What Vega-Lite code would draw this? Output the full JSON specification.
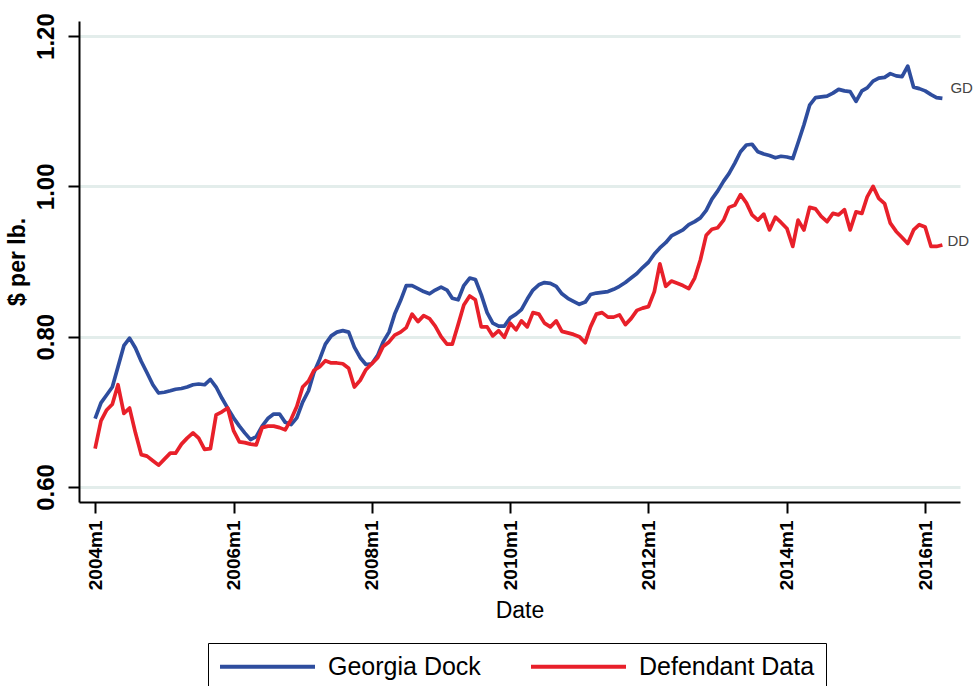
{
 "$schema": "https://vega.github.io/schema/vega-lite/v6.json",
 "width": 881,
 "height": 481,
 "autosize": {"type": "none"},
 "padding": {"left": 79, "top": 21, "right": 19, "bottom": 184},
 "background": "white",
 "config": {"view": {"stroke": null}, "font": "Liberation Sans"},
 "datasets": {
  "prices": [
   {"date":"2004-01-01","Georgia Dock":0.691,"Defendant Data":0.651},
   {"date":"2004-02-01","Georgia Dock":0.712,"Defendant Data":0.688},
   {"date":"2004-03-01","Georgia Dock":0.722,"Defendant Data":0.702},
   {"date":"2004-04-01","Georgia Dock":0.733,"Defendant Data":0.710},
   {"date":"2004-05-01","Georgia Dock":0.760,"Defendant Data":0.736},
   {"date":"2004-06-01","Georgia Dock":0.788,"Defendant Data":0.698},
   {"date":"2004-07-01","Georgia Dock":0.798,"Defendant Data":0.705},
   {"date":"2004-08-01","Georgia Dock":0.785,"Defendant Data":0.672},
   {"date":"2004-09-01","Georgia Dock":0.767,"Defendant Data":0.643},
   {"date":"2004-10-01","Georgia Dock":0.752,"Defendant Data":0.641},
   {"date":"2004-11-01","Georgia Dock":0.736,"Defendant Data":0.635},
   {"date":"2004-12-01","Georgia Dock":0.725,"Defendant Data":0.629},
   {"date":"2005-01-01","Georgia Dock":0.726,"Defendant Data":0.637},
   {"date":"2005-02-01","Georgia Dock":0.728,"Defendant Data":0.645},
   {"date":"2005-03-01","Georgia Dock":0.730,"Defendant Data":0.645},
   {"date":"2005-04-01","Georgia Dock":0.731,"Defendant Data":0.657},
   {"date":"2005-05-01","Georgia Dock":0.733,"Defendant Data":0.665},
   {"date":"2005-06-01","Georgia Dock":0.736,"Defendant Data":0.672},
   {"date":"2005-07-01","Georgia Dock":0.737,"Defendant Data":0.665},
   {"date":"2005-08-01","Georgia Dock":0.736,"Defendant Data":0.650},
   {"date":"2005-09-01","Georgia Dock":0.743,"Defendant Data":0.651},
   {"date":"2005-10-01","Georgia Dock":0.733,"Defendant Data":0.696},
   {"date":"2005-11-01","Georgia Dock":0.718,"Defendant Data":0.700},
   {"date":"2005-12-01","Georgia Dock":0.705,"Defendant Data":0.705},
   {"date":"2006-01-01","Georgia Dock":0.692,"Defendant Data":0.675},
   {"date":"2006-02-01","Georgia Dock":0.681,"Defendant Data":0.660},
   {"date":"2006-03-01","Georgia Dock":0.672,"Defendant Data":0.659},
   {"date":"2006-04-01","Georgia Dock":0.663,"Defendant Data":0.657},
   {"date":"2006-05-01","Georgia Dock":0.667,"Defendant Data":0.656},
   {"date":"2006-06-01","Georgia Dock":0.681,"Defendant Data":0.679},
   {"date":"2006-07-01","Georgia Dock":0.691,"Defendant Data":0.681},
   {"date":"2006-08-01","Georgia Dock":0.697,"Defendant Data":0.681},
   {"date":"2006-09-01","Georgia Dock":0.697,"Defendant Data":0.679},
   {"date":"2006-10-01","Georgia Dock":0.686,"Defendant Data":0.676},
   {"date":"2006-11-01","Georgia Dock":0.683,"Defendant Data":0.690},
   {"date":"2006-12-01","Georgia Dock":0.692,"Defendant Data":0.707},
   {"date":"2007-01-01","Georgia Dock":0.713,"Defendant Data":0.733},
   {"date":"2007-02-01","Georgia Dock":0.728,"Defendant Data":0.741},
   {"date":"2007-03-01","Georgia Dock":0.752,"Defendant Data":0.755},
   {"date":"2007-04-01","Georgia Dock":0.770,"Defendant Data":0.760},
   {"date":"2007-05-01","Georgia Dock":0.790,"Defendant Data":0.768},
   {"date":"2007-06-01","Georgia Dock":0.801,"Defendant Data":0.765},
   {"date":"2007-07-01","Georgia Dock":0.806,"Defendant Data":0.765},
   {"date":"2007-08-01","Georgia Dock":0.808,"Defendant Data":0.764},
   {"date":"2007-09-01","Georgia Dock":0.806,"Defendant Data":0.758},
   {"date":"2007-10-01","Georgia Dock":0.786,"Defendant Data":0.733},
   {"date":"2007-11-01","Georgia Dock":0.772,"Defendant Data":0.742},
   {"date":"2007-12-01","Georgia Dock":0.763,"Defendant Data":0.756},
   {"date":"2008-01-01","Georgia Dock":0.764,"Defendant Data":0.764},
   {"date":"2008-02-01","Georgia Dock":0.775,"Defendant Data":0.772},
   {"date":"2008-03-01","Georgia Dock":0.793,"Defendant Data":0.787},
   {"date":"2008-04-01","Georgia Dock":0.806,"Defendant Data":0.793},
   {"date":"2008-05-01","Georgia Dock":0.830,"Defendant Data":0.802},
   {"date":"2008-06-01","Georgia Dock":0.848,"Defendant Data":0.806},
   {"date":"2008-07-01","Georgia Dock":0.868,"Defendant Data":0.812},
   {"date":"2008-08-01","Georgia Dock":0.868,"Defendant Data":0.830},
   {"date":"2008-09-01","Georgia Dock":0.864,"Defendant Data":0.820},
   {"date":"2008-10-01","Georgia Dock":0.860,"Defendant Data":0.828},
   {"date":"2008-11-01","Georgia Dock":0.857,"Defendant Data":0.824},
   {"date":"2008-12-01","Georgia Dock":0.862,"Defendant Data":0.814},
   {"date":"2009-01-01","Georgia Dock":0.866,"Defendant Data":0.800},
   {"date":"2009-02-01","Georgia Dock":0.862,"Defendant Data":0.790},
   {"date":"2009-03-01","Georgia Dock":0.851,"Defendant Data":0.790},
   {"date":"2009-04-01","Georgia Dock":0.849,"Defendant Data":0.816},
   {"date":"2009-05-01","Georgia Dock":0.868,"Defendant Data":0.842},
   {"date":"2009-06-01","Georgia Dock":0.878,"Defendant Data":0.854},
   {"date":"2009-07-01","Georgia Dock":0.876,"Defendant Data":0.849},
   {"date":"2009-08-01","Georgia Dock":0.856,"Defendant Data":0.813},
   {"date":"2009-09-01","Georgia Dock":0.832,"Defendant Data":0.813},
   {"date":"2009-10-01","Georgia Dock":0.818,"Defendant Data":0.801},
   {"date":"2009-11-01","Georgia Dock":0.814,"Defendant Data":0.808},
   {"date":"2009-12-01","Georgia Dock":0.814,"Defendant Data":0.799},
   {"date":"2010-01-01","Georgia Dock":0.825,"Defendant Data":0.818},
   {"date":"2010-02-01","Georgia Dock":0.830,"Defendant Data":0.809},
   {"date":"2010-03-01","Georgia Dock":0.836,"Defendant Data":0.821},
   {"date":"2010-04-01","Georgia Dock":0.850,"Defendant Data":0.813},
   {"date":"2010-05-01","Georgia Dock":0.862,"Defendant Data":0.832},
   {"date":"2010-06-01","Georgia Dock":0.869,"Defendant Data":0.830},
   {"date":"2010-07-01","Georgia Dock":0.872,"Defendant Data":0.818},
   {"date":"2010-08-01","Georgia Dock":0.871,"Defendant Data":0.813},
   {"date":"2010-09-01","Georgia Dock":0.867,"Defendant Data":0.821},
   {"date":"2010-10-01","Georgia Dock":0.857,"Defendant Data":0.807},
   {"date":"2010-11-01","Georgia Dock":0.851,"Defendant Data":0.805},
   {"date":"2010-12-01","Georgia Dock":0.847,"Defendant Data":0.803},
   {"date":"2011-01-01","Georgia Dock":0.843,"Defendant Data":0.800},
   {"date":"2011-02-01","Georgia Dock":0.846,"Defendant Data":0.792},
   {"date":"2011-03-01","Georgia Dock":0.856,"Defendant Data":0.813},
   {"date":"2011-04-01","Georgia Dock":0.858,"Defendant Data":0.830},
   {"date":"2011-05-01","Georgia Dock":0.859,"Defendant Data":0.832},
   {"date":"2011-06-01","Georgia Dock":0.860,"Defendant Data":0.826},
   {"date":"2011-07-01","Georgia Dock":0.863,"Defendant Data":0.826},
   {"date":"2011-08-01","Georgia Dock":0.867,"Defendant Data":0.829},
   {"date":"2011-09-01","Georgia Dock":0.872,"Defendant Data":0.816},
   {"date":"2011-10-01","Georgia Dock":0.878,"Defendant Data":0.824},
   {"date":"2011-11-01","Georgia Dock":0.884,"Defendant Data":0.835},
   {"date":"2011-12-01","Georgia Dock":0.892,"Defendant Data":0.838},
   {"date":"2012-01-01","Georgia Dock":0.899,"Defendant Data":0.840},
   {"date":"2012-02-01","Georgia Dock":0.910,"Defendant Data":0.860},
   {"date":"2012-03-01","Georgia Dock":0.918,"Defendant Data":0.897},
   {"date":"2012-04-01","Georgia Dock":0.925,"Defendant Data":0.867},
   {"date":"2012-05-01","Georgia Dock":0.934,"Defendant Data":0.874},
   {"date":"2012-06-01","Georgia Dock":0.938,"Defendant Data":0.871},
   {"date":"2012-07-01","Georgia Dock":0.942,"Defendant Data":0.868},
   {"date":"2012-08-01","Georgia Dock":0.949,"Defendant Data":0.864},
   {"date":"2012-09-01","Georgia Dock":0.953,"Defendant Data":0.878},
   {"date":"2012-10-01","Georgia Dock":0.958,"Defendant Data":0.902},
   {"date":"2012-11-01","Georgia Dock":0.968,"Defendant Data":0.935},
   {"date":"2012-12-01","Georgia Dock":0.983,"Defendant Data":0.943},
   {"date":"2013-01-01","Georgia Dock":0.994,"Defendant Data":0.945},
   {"date":"2013-02-01","Georgia Dock":1.007,"Defendant Data":0.955},
   {"date":"2013-03-01","Georgia Dock":1.017,"Defendant Data":0.972},
   {"date":"2013-04-01","Georgia Dock":1.031,"Defendant Data":0.975},
   {"date":"2013-05-01","Georgia Dock":1.046,"Defendant Data":0.989},
   {"date":"2013-06-01","Georgia Dock":1.055,"Defendant Data":0.978},
   {"date":"2013-07-01","Georgia Dock":1.056,"Defendant Data":0.962},
   {"date":"2013-08-01","Georgia Dock":1.046,"Defendant Data":0.955},
   {"date":"2013-09-01","Georgia Dock":1.043,"Defendant Data":0.963},
   {"date":"2013-10-01","Georgia Dock":1.041,"Defendant Data":0.942},
   {"date":"2013-11-01","Georgia Dock":1.038,"Defendant Data":0.959},
   {"date":"2013-12-01","Georgia Dock":1.040,"Defendant Data":0.952},
   {"date":"2014-01-01","Georgia Dock":1.039,"Defendant Data":0.944},
   {"date":"2014-02-01","Georgia Dock":1.037,"Defendant Data":0.920},
   {"date":"2014-03-01","Georgia Dock":1.058,"Defendant Data":0.955},
   {"date":"2014-04-01","Georgia Dock":1.082,"Defendant Data":0.942},
   {"date":"2014-05-01","Georgia Dock":1.108,"Defendant Data":0.972},
   {"date":"2014-06-01","Georgia Dock":1.118,"Defendant Data":0.970},
   {"date":"2014-07-01","Georgia Dock":1.119,"Defendant Data":0.960},
   {"date":"2014-08-01","Georgia Dock":1.120,"Defendant Data":0.953},
   {"date":"2014-09-01","Georgia Dock":1.124,"Defendant Data":0.964},
   {"date":"2014-10-01","Georgia Dock":1.129,"Defendant Data":0.962},
   {"date":"2014-11-01","Georgia Dock":1.127,"Defendant Data":0.969},
   {"date":"2014-12-01","Georgia Dock":1.126,"Defendant Data":0.942},
   {"date":"2015-01-01","Georgia Dock":1.113,"Defendant Data":0.966},
   {"date":"2015-02-01","Georgia Dock":1.127,"Defendant Data":0.964},
   {"date":"2015-03-01","Georgia Dock":1.131,"Defendant Data":0.986},
   {"date":"2015-04-01","Georgia Dock":1.140,"Defendant Data":1.000},
   {"date":"2015-05-01","Georgia Dock":1.144,"Defendant Data":0.984},
   {"date":"2015-06-01","Georgia Dock":1.145,"Defendant Data":0.977},
   {"date":"2015-07-01","Georgia Dock":1.150,"Defendant Data":0.951},
   {"date":"2015-08-01","Georgia Dock":1.147,"Defendant Data":0.940},
   {"date":"2015-09-01","Georgia Dock":1.146,"Defendant Data":0.932},
   {"date":"2015-10-01","Georgia Dock":1.160,"Defendant Data":0.924},
   {"date":"2015-11-01","Georgia Dock":1.132,"Defendant Data":0.942},
   {"date":"2015-12-01","Georgia Dock":1.130,"Defendant Data":0.949},
   {"date":"2016-01-01","Georgia Dock":1.127,"Defendant Data":0.946},
   {"date":"2016-02-01","Georgia Dock":1.122,"Defendant Data":0.920},
   {"date":"2016-03-01","Georgia Dock":1.118,"Defendant Data":0.920},
   {"date":"2016-04-01","Georgia Dock":1.117,"Defendant Data":0.922}
  ],
  "labels": [
   {"date":"2016-04-01","price":1.117,"lab":"GD"},
   {"date":"2016-04-01","price":0.922,"lab":"DD"}
  ]
 },
 "layer": [
  {
   "data": {"name": "prices"},
   "transform": [{"fold": ["Georgia Dock", "Defendant Data"], "as": ["series", "price"]}],
   "mark": {"type": "line", "strokeWidth": 3.7, "strokeJoin": "round"},
   "encoding": {
    "x": {
     "field": "date", "type": "temporal",
     "scale": {"type": "utc", "domain": [{"year": 2003, "month": 10, "date": 8, "utc": true}, {"year": 2016, "month": 7, "date": 3, "utc": true}]},
     "axis": {
      "values": [
       {"year": 2004, "month": 1, "date": 1, "utc": true},
       {"year": 2006, "month": 1, "date": 1, "utc": true},
       {"year": 2008, "month": 1, "date": 1, "utc": true},
       {"year": 2010, "month": 1, "date": 1, "utc": true},
       {"year": 2012, "month": 1, "date": 1, "utc": true},
       {"year": 2014, "month": 1, "date": 1, "utc": true},
       {"year": 2016, "month": 1, "date": 1, "utc": true}
      ],
      "labelExpr": "utcFormat(datum.value, '%Y') + 'm1'",
      "labelAngle": 270, "labelAlign": "right", "labelBaseline": "middle",
      "labelFontSize": 19, "labelFontWeight": "bold", "labelColor": "black", "labelPadding": 7,
      "labelOverlap": false, "labelFlush": false,
      "tickSize": 11, "tickWidth": 2, "tickColor": "black",
      "domainColor": "black", "domainWidth": 2, "grid": false,
      "title": "Date", "titleFontSize": 23, "titleFontWeight": "normal", "titleColor": "black", "titlePadding": 10
     }
    },
    "y": {
     "field": "price", "type": "quantitative",
     "scale": {"domain": [0.58, 1.22], "nice": false, "zero": false},
     "axis": {
      "values": [0.6, 0.8, 1.0, 1.2], "format": ".2f",
      "labelAngle": 270, "labelAlign": "center", "labelBaseline": "bottom",
      "labelFontSize": 24, "labelFontWeight": "bold", "labelColor": "black", "labelPadding": 10,
      "tickSize": 11, "tickWidth": 2, "tickColor": "black",
      "domainColor": "black", "domainWidth": 2,
      "grid": true, "gridColor": "#e3edeb", "gridWidth": 3,
      "title": "$ per lb.", "titleFontSize": 23, "titleFontWeight": "bold", "titleColor": "black", "titlePadding": 5
     }
    },
    "color": {
     "field": "series", "type": "nominal",
     "scale": {"domain": ["Georgia Dock", "Defendant Data"], "range": ["#2e4d9e", "#e8202a"]},
     "legend": {
      "orient": "none", "legendX": 129, "legendY": 622, "direction": "horizontal", "title": null,
      "symbolType": "M-5,0H5", "symbolSize": 361, "symbolStrokeWidth": 4, "symbolOffset": 36,
      "labelOffset": 48, "labelFontSize": 25, "labelColor": "black", "labelLimit": 400,
      "strokeColor": "black", "padding": 11, "columnPadding": 42
     }
    }
   }
  },
  {
   "data": {"name": "labels"},
   "transform": [{"filter": "datum.lab == 'GD'"}],
   "mark": {"type": "text", "align": "left", "baseline": "middle", "dx": 8, "dy": -10, "fontSize": 15, "color": "#444444"},
   "encoding": {
    "x": {"field": "date", "type": "temporal"},
    "y": {"field": "price", "type": "quantitative"},
    "text": {"field": "lab"}
   }
  },
  {
   "data": {"name": "labels"},
   "transform": [{"filter": "datum.lab == 'DD'"}],
   "mark": {"type": "text", "align": "left", "baseline": "middle", "dx": 5, "dy": -4, "fontSize": 15, "color": "#444444"},
   "encoding": {
    "x": {"field": "date", "type": "temporal"},
    "y": {"field": "price", "type": "quantitative"},
    "text": {"field": "lab"}
   }
  }
 ]
}
